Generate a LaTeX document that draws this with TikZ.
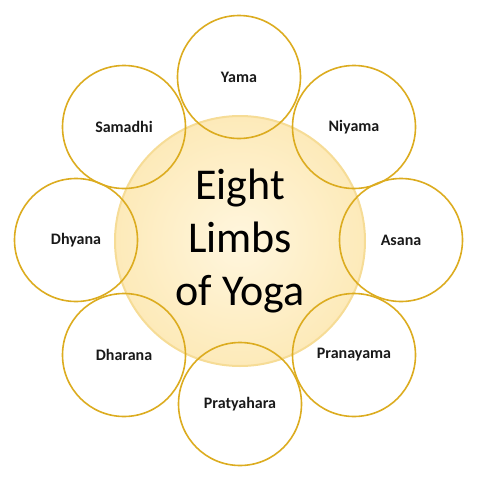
\documentclass[tikz,border=0pt]{standalone}
\usepackage{fontspec}
\setmainfont{Carlito}
\usetikzlibrary{shadings}
\definecolor{gold}{RGB}{220,172,32}
\definecolor{hubline}{RGB}{246,220,150}
\definecolor{inner}{RGB}{255,246,222}
\definecolor{outer}{RGB}{253,234,185}
\tikzset{
  limb/.style={circle, draw=gold, line width=1.6pt, minimum size=123pt, inner sep=0pt, font=\fontsize{16}{19}\selectfont\bfseries, text=black!90},
  hub/.style={circle, draw=hubline, line width=2pt, minimum size=250pt, inner sep=0pt, inner color=inner, outer color=outer, align=center, font=\fontsize{44}{53}\selectfont}
}
\begin{document}
\begin{tikzpicture}[x=1pt,y=-1pt]
\useasboundingbox (0,0) rectangle (480,480);
\node[hub] (c) at (240,241) {Eight\\Limbs\\of Yoga};
\node[limb] (yama) at (239,77) {Yama};
\node[limb] (niyama) at (354,127) {Niyama};
\node[limb] (asana) at (401,240) {Asana};
\node[limb] (prana) at (354,355) {Pranayama};
\node[limb] (praty) at (240,404) {Pratyahara};
\node[limb] (dhar) at (124,355) {Dharana};
\node[limb] (dhy) at (76,240) {Dhyana};
\node[limb] (sam) at (124,127) {Samadhi};
\end{tikzpicture}
\end{document}
